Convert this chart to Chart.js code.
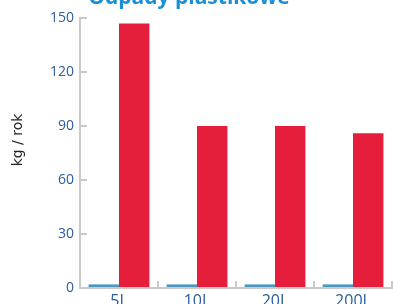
<!DOCTYPE html>
<html>
<head>
<meta charset="utf-8">
<script src="https://cdn.jsdelivr.net/npm/chart.js@4/dist/chart.umd.min.js"></script>
<style>
  html, body { margin: 0; padding: 0; background: #fff; }
  #wrap { width: 393px; height: 304px; }
</style>
</head>
<body>
<div id="wrap"><canvas id="myChart"></canvas></div>
<script>
var sizes = ['5L', '10L', '20L', '200L'];
var blueValues = [2, 2, 2, 2];
var redValues = [147, 90, 90, 86];
var yTicks = [0, 30, 60, 90, 120, 150];

var axisGray = '#c9c9c9';
var tickBlue = '#2b5d9b';

// title sits above the canvas top, only its lower part shows;
// the unit label is placed a bit above the plot middle, like the original
var extraText = {
  id: 'extraText',
  afterDraw: function(chart) {
    var c = chart.ctx;
    c.save();
    c.font = 'bold 21px "Open Sans"';
    c.fillStyle = '#1a8fd6';
    c.textAlign = 'center';
    c.textBaseline = 'alphabetic';
    c.fillText('Odpady plastikowe', 189, 4);

    c.translate(18, 140);
    c.rotate(-Math.PI / 2);
    c.font = '14px "DejaVu Sans"';
    c.fillStyle = '#222';
    c.textBaseline = 'middle';
    c.fillText('kg / rok', 0, 0);
    c.restore();
  }
};

var ctx = document.getElementById('myChart');

var myChart = new Chart(ctx, {
  type: 'bar',
  data: {
    labels: sizes,
    datasets: [{
      label: 'a',
      data: blueValues,
      backgroundColor: '#4a98c0'
    }, {
      label: 'b',
      data: redValues,
      backgroundColor: '#e51e3b'
    }]
  },
  options: {
    animation: false,
    responsive: true,
    maintainAspectRatio: false,
    layout: { padding: { top: 18, right: 1, left: 0, bottom: 0 } },
    plugins: {
      legend: { display: false },
      tooltip: { enabled: false },
      title: { display: false }
    },
    datasets: {
      bar: { categoryPercentage: 0.78, barPercentage: 1 }
    },
    scales: {
      x: {
        grid: { drawOnChartArea: false, offset: true, color: axisGray, lineWidth: 2, tickLength: -7 },
        border: { color: axisGray, width: 2 },
        ticks: { color: tickBlue, font: { family: 'Open Sans', size: 16 }, padding: 11 },
        afterFit: function(axis) {
          axis.height = 16;
          axis.paddingLeft = 0;
          axis.paddingRight = 0;
        }
      },
      y: {
        min: 0,
        max: 150,
        afterBuildTicks: function(axis) {
          axis.ticks = yTicks.map(function(v) { return { value: v }; });
        },
        grid: { drawOnChartArea: false, color: axisGray, lineWidth: 2, tickLength: -7 },
        border: { color: axisGray, width: 2 },
        ticks: { color: tickBlue, font: { family: 'Open Sans', size: 14 }, padding: 13 },
        afterFit: function(axis) {
          axis.width = 80;
          axis.paddingTop = 0;
          axis.paddingBottom = 0;
        }
      }
    }
  },
  plugins: [extraText]
});
</script>
</body>
</html>
